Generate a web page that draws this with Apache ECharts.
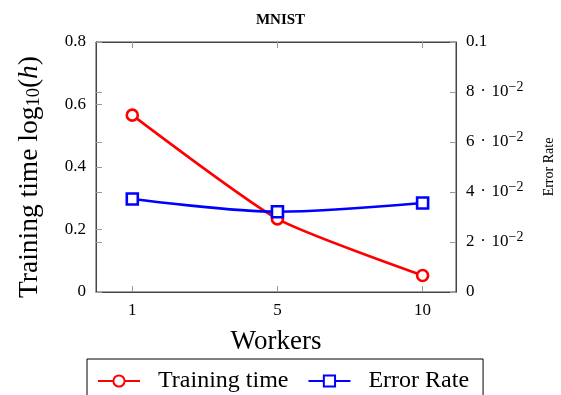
<!DOCTYPE html>
<html>
<head>
<meta charset="utf-8">
<script src="https://cdn.jsdelivr.net/npm/echarts@6/dist/echarts.min.js"></script>
<style>html,body{margin:0;padding:0;background:#fff}#c{width:561px;height:395px}</style>
</head>
<body>
<div id="c"></div>
<script>
var categories = ['1', '5', '10'];
var trainingTime = [0.566, 0.234, 0.053];
var errorRate = [0.0372, 0.0321, 0.0356];
var leftTicks = [0, 0.2, 0.4, 0.6, 0.8];
var rightTicks = [0, 0.02, 0.04, 0.06, 0.08, 0.1];

var F = 'Liberation Serif';
var AX = '#444';
var TK = '#999';
var chart = echarts.init(document.getElementById('c'));
var idx = categories.map(function (c, i) { return i; });

function rightLabel(v) {
  var m = Math.round(v * 100);
  if (m === 0) return '0';
  if (m === 10) return '0.1';
  return '{a|' + m + ' \u200A·\u200A 10}{s|−2}';
}

chart.setOption({
  animation: false,
  title: {
    text: 'MNIST', left: 'center', top: 8,
    textStyle: { fontFamily: F, fontWeight: 'bold', fontSize: 15, color: '#000' }
  },
  legend: {
    left: 87, top: 359,
    padding: [10, 14, 20, 10],
    itemGap: 19,
    itemWidth: 42, itemHeight: 14,
    borderColor: '#000', borderWidth: 1, borderRadius: 0,
    textStyle: { fontFamily: F, fontSize: 24, color: '#000', padding: [0, 0, 0, 13] },
    data: ['Training time', 'Error Rate']
  },
  grid: { left: 96, right: 105, top: 42, bottom: 103, outerBoundsMode: 'none', containLabel: false, show: true, borderColor: AX, borderWidth: 1 },
  xAxis: [{
    type: 'value', min: -0.25, max: 2.23,
    name: 'Workers', nameLocation: 'middle', nameGap: 36,
    nameTextStyle: { fontFamily: F, fontSize: 27, color: '#000' },
    axisLine: { onZero: false, lineStyle: { color: AX } },
    splitLine: { show: false },
    axisTick: { inside: true, length: 6, customValues: idx, lineStyle: { color: TK } },
    axisLabel: {
      customValues: idx, margin: 10,
      fontFamily: F, fontSize: 17, color: '#000',
      formatter: function (v) { return categories[Math.round(v)]; }
    }
  }, {
    type: 'value', min: -0.25, max: 2.23, position: 'top',
    axisLine: { onZero: false, lineStyle: { color: AX } },
    splitLine: { show: false },
    axisTick: { inside: true, length: 6, customValues: idx, lineStyle: { color: TK } },
    axisLabel: { show: false }
  }],
  yAxis: [{
    type: 'value', min: 0, max: 0.8, interval: 0.2, position: 'left',
    name: '{a|Training time log}{s|10}{a|(}{i|h}{a|)}',
    nameLocation: 'middle', nameGap: 52,
    nameTextStyle: {
      color: '#000',
      padding: [0, 20, 0, 0],
      rich: {
        a: { fontFamily: F, fontSize: 27.5, color: '#000' },
        i: { fontFamily: F, fontSize: 27.5, fontStyle: 'italic', color: '#000' },
        s: { fontFamily: F, fontSize: 18.5, color: '#000', padding: [10, 0, 0, 0] }
      }
    },
    axisLine: { show: true, onZero: false, lineStyle: { color: AX } },
    splitLine: { show: false },
    axisTick: { inside: true, length: 6, lineStyle: { color: TK } },
    axisLabel: {
      margin: 10, fontFamily: F, fontSize: 17, color: '#000',
      customValues: leftTicks,
      formatter: function (v) { return String(Math.round(v * 10) / 10); }
    }
  }, {
    type: 'value', min: 0, max: 0.1, interval: 0.02, position: 'right',
    name: 'Error Rate', nameLocation: 'middle', nameGap: 86, nameRotate: 90,
    nameTextStyle: { fontFamily: F, fontSize: 14, color: '#000' },
    axisLine: { show: true, onZero: false, lineStyle: { color: AX } },
    splitLine: { show: false },
    axisTick: { inside: true, length: 6, lineStyle: { color: TK } },
    axisLabel: {
      margin: 10, color: '#000',
      customValues: rightTicks,
      formatter: rightLabel,
      fontFamily: F, fontSize: 17,
      rich: {
        a: { fontFamily: F, fontSize: 17, color: '#000' },
        s: { fontFamily: F, fontSize: 14, color: '#000', padding: [0, 0, 9, 0] }
      }
    }
  }, {
    type: 'value', min: 0, max: 0.1, interval: 0.02, position: 'left',
    axisLine: { show: false, onZero: false },
    splitLine: { show: false },
    axisTick: { inside: true, length: 6, lineStyle: { color: TK } },
    axisLabel: { show: false }
  }],
  series: [{
    name: 'Training time', type: 'line', xAxisIndex: 0, yAxisIndex: 0,
    data: trainingTime.map(function (v, i) { return [i, v]; }),
    smooth: 0.2,
    symbol: 'circle', symbolSize: 11,
    lineStyle: { color: '#ff0000', width: 2.6 },
    itemStyle: { color: '#fff', borderColor: '#ff0000', borderWidth: 2.6 },
    z: 3
  }, {
    name: 'Error Rate', type: 'line', xAxisIndex: 0, yAxisIndex: 1,
    data: errorRate.map(function (v, i) { return [i, v]; }),
    smooth: 0.3,
    symbol: 'rect', symbolSize: 11,
    lineStyle: { color: '#0000ff', width: 2.6 },
    itemStyle: { color: '#fff', borderColor: '#0000ff', borderWidth: 2.6 },
    z: 4
  }]
});
</script>
</body>
</html>
